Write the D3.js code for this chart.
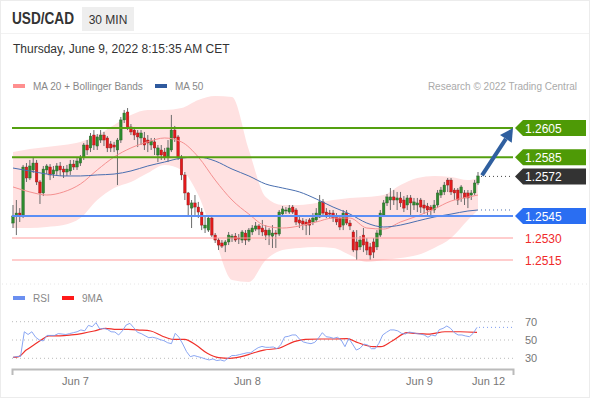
<!DOCTYPE html>
<html>
<head>
<meta charset="utf-8">
<script src="https://cdnjs.cloudflare.com/ajax/libs/d3/7.8.5/d3.min.js"></script>
<style>
body { margin: 0; background: #fff; font-family: "Liberation Sans", Arial, sans-serif; }
</style>
</head>
<body>
<script>
var width = 590;
var height = 400;

// candles: [open, high, low, close], 30 min
var candles = [
  [1.25402,1.25525,1.25368,1.25450],[1.25450,1.25559,1.25320,1.25470],[1.25470,1.25504,1.25409,1.25450],
  [1.25457,1.25798,1.25436,1.25784],[1.25784,1.25811,1.25682,1.25709],[1.25709,1.25832,1.25695,1.25791],
  [1.25764,1.25852,1.25743,1.25811],[1.25811,1.25832,1.25661,1.25682],[1.25682,1.25695,1.25532,1.25607],
  [1.25607,1.25791,1.25586,1.25770],[1.25764,1.25804,1.25736,1.25791],[1.25784,1.25804,1.25695,1.25730],
  [1.25736,1.25791,1.25709,1.25764],[1.25757,1.25811,1.25730,1.25791],[1.25791,1.25818,1.25723,1.25764],
  [1.25770,1.25791,1.25709,1.25750],[1.25750,1.25798,1.25723,1.25770],[1.25757,1.25832,1.25730,1.25804],
  [1.25804,1.25832,1.25764,1.25784],[1.25784,1.25845,1.25764,1.25825],[1.25811,1.25866,1.25791,1.25845],
  [1.25852,1.25948,1.25832,1.25934],[1.25934,1.25968,1.25866,1.25900],[1.25914,1.26016,1.25886,1.25995],
  [1.26002,1.26036,1.25900,1.25934],[1.25927,1.26009,1.25900,1.25989],[1.25968,1.26036,1.25948,1.26002],
  [1.26002,1.26023,1.25927,1.25968],[1.25982,1.25995,1.25886,1.25914],[1.25941,1.25961,1.25886,1.25914],
  [1.25934,1.25955,1.25886,1.25920],[1.25900,1.25982,1.25661,1.25968],[1.25968,1.26125,1.25948,1.26105],
  [1.26105,1.26173,1.26084,1.26152],[1.26159,1.26186,1.26036,1.26050],[1.26057,1.26077,1.26002,1.26023],
  [1.26036,1.26057,1.25968,1.26002],[1.26016,1.26036,1.25920,1.25989],[1.25982,1.26036,1.25934,1.26016],
  [1.25982,1.26023,1.25900,1.25934],[1.25968,1.26002,1.25886,1.25948],[1.25934,1.25982,1.25900,1.25961],
  [1.25955,1.25982,1.25866,1.25914],[1.25866,1.25934,1.25818,1.25914],[1.25900,1.25934,1.25832,1.25866],
  [1.25886,1.25914,1.25832,1.25852],[1.25852,1.25968,1.25818,1.25914],[1.25900,1.26139,1.25886,1.26036],
  [1.26036,1.26064,1.25955,1.25982],[1.25989,1.26002,1.25832,1.25852],[1.25852,1.25866,1.25695,1.25730],
  [1.25730,1.25750,1.25559,1.25607],[1.25607,1.25614,1.25443,1.25525],[1.25504,1.25559,1.25368,1.25539],
  [1.25539,1.25593,1.25457,1.25511],[1.25511,1.25546,1.25436,1.25477],[1.25477,1.25504,1.25354,1.25388],
  [1.25368,1.25457,1.25334,1.25388],[1.25354,1.25450,1.25341,1.25436],[1.25436,1.25457,1.25307,1.25320],
  [1.25320,1.25334,1.25266,1.25286],[1.25286,1.25300,1.25218,1.25252],[1.25266,1.25286,1.25232,1.25245],
  [1.25252,1.25286,1.25204,1.25273],[1.25273,1.25341,1.25252,1.25320],[1.25300,1.25327,1.25273,1.25313],
  [1.25313,1.25334,1.25273,1.25286],[1.25300,1.25327,1.25259,1.25298],[1.25286,1.25354,1.25266,1.25341],
  [1.25334,1.25354,1.25252,1.25286],[1.25286,1.25368,1.25273,1.25354],[1.25341,1.25388,1.25320,1.25368],
  [1.25361,1.25409,1.25347,1.25382],[1.25382,1.25395,1.25320,1.25361],[1.25368,1.25423,1.25313,1.25341],
  [1.25354,1.25388,1.25286,1.25320],[1.25320,1.25368,1.25252,1.25354],[1.25313,1.25388,1.25232,1.25334],
  [1.25334,1.25354,1.25232,1.25327],[1.25327,1.25491,1.25313,1.25477],[1.25464,1.25518,1.25450,1.25498],
  [1.25484,1.25511,1.25464,1.25491],[1.25477,1.25525,1.25464,1.25504],[1.25511,1.25525,1.25464,1.25477],
  [1.25491,1.25504,1.25388,1.25409],[1.25423,1.25443,1.25368,1.25402],[1.25416,1.25436,1.25354,1.25395],
  [1.25409,1.25429,1.25320,1.25388],[1.25423,1.25436,1.25320,1.25388],[1.25409,1.25470,1.25388,1.25436],
  [1.25423,1.25504,1.25409,1.25470],[1.25443,1.25593,1.25436,1.25546],[1.25546,1.25566,1.25457,1.25470],
  [1.25477,1.25504,1.25436,1.25457],[1.25470,1.25491,1.25436,1.25463],[1.25470,1.25491,1.25409,1.25436],
  [1.25443,1.25470,1.25388,1.25409],[1.25436,1.25457,1.25354,1.25375],[1.25388,1.25491,1.25354,1.25470],
  [1.25470,1.25491,1.25388,1.25402],[1.25402,1.25423,1.25354,1.25382],[1.25341,1.25354,1.25204,1.25218],
  [1.25273,1.25354,1.25150,1.25218],[1.25239,1.25313,1.25218,1.25286],[1.25320,1.25368,1.25204,1.25252],
  [1.25273,1.25300,1.25184,1.25218],[1.25239,1.25266,1.25150,1.25184],[1.25273,1.25300,1.25163,1.25204],
  [1.25239,1.25354,1.25218,1.25334],[1.25320,1.25491,1.25307,1.25470],[1.25457,1.25559,1.25443,1.25539],
  [1.25539,1.25600,1.25518,1.25580],[1.25559,1.25641,1.25491,1.25580],[1.25580,1.25627,1.25525,1.25559],
  [1.25559,1.25614,1.25491,1.25573],[1.25573,1.25614,1.25511,1.25539],[1.25559,1.25586,1.25477,1.25504],
  [1.25525,1.25593,1.25491,1.25573],[1.25573,1.25593,1.25457,1.25539],[1.25525,1.25573,1.25491,1.25546],
  [1.25525,1.25573,1.25477,1.25539],[1.25559,1.25573,1.25470,1.25511],[1.25525,1.25559,1.25464,1.25504],
  [1.25518,1.25539,1.25457,1.25491],[1.25511,1.25525,1.25457,1.25491],[1.25491,1.25559,1.25470,1.25525],
  [1.25525,1.25627,1.25504,1.25607],[1.25593,1.25648,1.25573,1.25627],[1.25614,1.25682,1.25593,1.25661],
  [1.25695,1.25709,1.25614,1.25661],[1.25695,1.25709,1.25593,1.25614],[1.25627,1.25641,1.25559,1.25607],
  [1.25627,1.25641,1.25525,1.25559],[1.25607,1.25661,1.25546,1.25648],[1.25607,1.25627,1.25525,1.25573],
  [1.25607,1.25627,1.25504,1.25573],[1.25593,1.25627,1.25559,1.25607],[1.25607,1.25695,1.25593,1.25675],
  [1.25675,1.25750,1.25661,1.25723]
];

// indicator readings, taken every 5 candles
var bandIdx = [0,5,10,15,20,25,30,35,40,45,50,55,60,65,70,75,80,85,90,95,100,105,110,115,120,125,130,135,138];
var bbUpper = [1.25886,1.25907,1.25920,1.25934,1.25955,1.26002,1.26071,1.26139,1.26173,1.26173,1.26186,1.26241,1.26268,1.26261,
  1.25900,1.25579,1.25525,1.25525,1.25538,1.25559,1.25573,1.25579,1.25593,1.25661,1.25709,1.25723,1.25716,1.25695,1.25709];
var bbLower = [1.25368,1.25368,1.25375,1.25388,1.25436,1.25559,1.25641,1.25682,1.25743,1.25798,1.25764,1.25593,1.25286,1.25013,
  1.25000,1.25150,1.25218,1.25232,1.25238,1.25232,1.25184,1.25136,1.25150,1.25163,1.25184,1.25232,1.25300,1.25423,1.25491];
var ma20 = [1.25648,1.25614,1.25593,1.25614,1.25668,1.25764,1.25852,1.25914,1.25955,1.25982,1.25955,1.25852,1.25695,1.25559,
  1.25463,1.25382,1.25368,1.25382,1.25409,1.25436,1.25436,1.25368,1.25361,1.25409,1.25450,1.25498,1.25552,1.25579,1.25593];
var ma50 = [1.25777,1.25757,1.25736,1.25723,1.25723,1.25730,1.25736,1.25757,1.25791,1.25818,1.25845,1.25852,1.25825,1.25770,
  1.25723,1.25668,1.25641,1.25614,1.25566,1.25511,1.25463,1.25402,1.25375,1.25388,1.25416,1.25443,1.25463,1.25484,1.25491];

var resistances = [1.2605, 1.2585];
var pivot = 1.2545;
var supports = [1.2530, 1.2515];
var lastPrice = 1.2572;

var rsi = [31,32,32,59,56,59,53,50,49,55, 55,55,57,56.5,56,57,58,59,61,60,
  66,64.5,69,62,62.7,61.6,59,58.7,55.5,60, 66.4,68.2,63.5,58.4,57,54.7,52.5,53,52,50.4,
  49.3,47,46,57.3,53,45.6,37.3,31.8,33,31.8, 30.7,29.3,28.2,29.3,27.5,28.2,27,30,33,33,
  34,35,36,36,39,41.6,43,42,42,42.4, 40.5,45,53.3,54,55.5,55.5,50.7,47.8,46.7,46,
  47.5,52.2,58,53.6,53,51.8,53,50,42.7,51.8, 45.6,39,41,45.6,44.5,40.5,40.5,46.4,55.5,58.4,
  61,61,60,57.3,56.5,58.7,58,57,56.5,55.5, 53,55.5,54.4,61.3,62.7,65.3,62.7,58,55.5,55.5,
  54.4,53.6,57.3,63.8];
var rsiMaIdx = [0,1.5,3.5,5.5,7.5,9.5,12.5,15.5,18.5,21.5,24.5,27.5,30.5,33.5,36.5,39.5,42.5,45.5,48.5,51.5,54.5,
  57.5,60.5,63.5,66.5,70.5,74.5,77.5,81.5,84.5,88.5,91.5,95.5,97.5,100.5,104.5,106.5,110.5,114.5,118.5,123];
var rsiMa = [31,31.8,39,44.5,50,54.4,54.4,55.5,57.3,59.8,62.7,61.6,61.6,60.9,59.8,54.4,50.7,50.7,44.5,35.5,30.7,
  30,31.8,35.5,39,41,48.2,50.7,51.1,51.1,51.5,47,42.7,42.7,48.9,58,57.3,56.5,59,59,58.4];
var rsiTicks = [30, 50, 70];

var dateLabels = ["Jun 7", "Jun 8", "Jun 9", "Jun 12"];
var dateIdx = [18.4, 69.4, 120.5, 141];

var svg = d3.select("body")
    .append("svg")
    .attr("width", width)
    .attr("height", height)
    .style("font-family", "'Liberation Sans', Arial, sans-serif");

svg.append("rect")
    .attr("x", 0.5).attr("y", 0.5)
    .attr("width", width - 1).attr("height", 397)
    .attr("fill", "#fff").attr("stroke", "#ececec");

//Header
svg.append("line")
    .attr("x1", 1).attr("x2", width - 1).attr("y1", 33.5).attr("y2", 33.5)
    .attr("stroke", "#f2f2f2");
svg.append("text")
    .attr("x", 12).attr("y", 24)
    .attr("font-size", 16).attr("font-weight", "bold").attr("fill", "#333")
    .attr("textLength", 62).attr("lengthAdjust", "spacingAndGlyphs")
    .text("USD/CAD");
svg.append("rect")
    .attr("x", 82).attr("y", 7).attr("width", 52).attr("height", 24)
    .attr("fill", "#eeeeee");
svg.append("text")
    .attr("x", 108).attr("y", 24).attr("text-anchor", "middle")
    .attr("font-size", 12).attr("fill", "#333")
    .text("30 MIN");
svg.append("text")
    .attr("x", 13).attr("y", 53)
    .attr("font-size", 12).attr("fill", "#333")
    .text("Thursday, June 9, 2022 8:15:35 AM CET");

//Legend
function legendItem(x, y, color, label) {
    svg.append("rect").attr("x", x).attr("y", y - 2).attr("width", 12).attr("height", 4).attr("fill", color);
    svg.append("text").attr("x", x + 20).attr("y", y + 4)
        .attr("font-size", 10).attr("fill", "#888").text(label);
}
legendItem(13, 86, "#ff8f8f", "MA 20 + Bollinger Bands");
legendItem(155, 86, "#2f5a9e", "MA 50");
svg.append("text")
    .attr("x", 577).attr("y", 90).attr("text-anchor", "end")
    .attr("font-size", 10).attr("fill", "#aaa")
    .text("Research \u00a9 2022 Trading Central");

//Scales
var x = d3.scaleLinear().domain([0, candles.length - 1]).range([13, 478]);
var step = x(1) - x(0);
var y = d3.scaleLinear().domain([1.2515, 1.2605]).range([260, 128]);
var left = 12, right = 513;

var main = svg.append("g");

//Bollinger band
var bandData = bandIdx.map(function(d, i) { return {i: d, hi: bbUpper[i], lo: bbLower[i], ma20: ma20[i], ma50: ma50[i]}; });
main.append("path")
    .datum(bandData)
    .attr("fill", "#ffe1e1")
    .attr("d", d3.area()
        .x(function(d) { return x(d.i); })
        .y0(function(d) { return y(d.lo); })
        .y1(function(d) { return y(d.hi); })
        .curve(d3.curveMonotoneX));

//Candles
var cg = main.append("g").selectAll("g")
    .data(candles)
    .enter().append("g");
cg.append("line")
    .attr("x1", function(d, i) { return x(i); })
    .attr("x2", function(d, i) { return x(i); })
    .attr("y1", function(d) { return y(d[1]); })
    .attr("y2", function(d) { return y(d[2]); })
    .attr("stroke", "#6b6b6b").attr("stroke-width", 1);
cg.append("rect")
    .attr("x", function(d, i) { return x(i) - step * 0.38; })
    .attr("width", step * 0.76)
    .attr("y", function(d) { return y(Math.max(d[0], d[3])); })
    .attr("height", function(d) { return Math.max(1, Math.abs(y(d[0]) - y(d[3]))); })
    .attr("fill", function(d) { return d[3] >= d[0] ? "#2e8b2e" : "#e3191b"; })
    .attr("stroke", function(d) { return d[3] >= d[0] ? "#2a5c2a" : "#8a1c1c"; })
    .attr("stroke-width", 0.4);

//MA lines
main.append("path")
    .datum(bandData)
    .attr("fill", "none").attr("stroke", "#f59090").attr("stroke-width", 1)
    .attr("d", d3.line().x(function(d) { return x(d.i); }).y(function(d) { return y(d.ma20); }).curve(d3.curveMonotoneX));
main.append("path")
    .datum(bandData)
    .attr("fill", "none").attr("stroke", "#4a6fb0").attr("stroke-width", 1)
    .attr("d", d3.line().x(function(d) { return x(d.i); }).y(function(d) { return y(d.ma50); }).curve(d3.curveMonotoneX));

//Key levels
function level(v, color, w) {
    main.append("line")
        .attr("x1", left).attr("x2", right)
        .attr("y1", y(v)).attr("y2", y(v))
        .attr("stroke", color).attr("stroke-width", w);
}
resistances.forEach(function(v) { level(v, "#54a010", 2); });
level(pivot, "#5b8ef5", 2);
supports.forEach(function(v) { level(v, "#ff9c9c", 1.2); });

//Dotted extensions
var xEnd = x(candles.length - 1) + 3;
main.append("line")
    .attr("x1", xEnd).attr("x2", right)
    .attr("y1", y(lastPrice)).attr("y2", y(lastPrice))
    .attr("stroke", "#444").attr("stroke-width", 1).attr("stroke-dasharray", "1,3");
main.append("line")
    .attr("x1", xEnd).attr("x2", right)
    .attr("y1", y(ma50[ma50.length - 1])).attr("y2", y(ma50[ma50.length - 1]))
    .attr("stroke", "#4a6fb0").attr("stroke-width", 1).attr("stroke-dasharray", "1,3");

//Tags
function tag(v, color) {
    var cy = y(v);
    main.append("path")
        .attr("d", "M" + (right + 2) + "," + cy + "L" + (right + 10) + "," + (cy - 8) + "L586," + (cy - 8) +
            "L586," + (cy + 8) + "L" + (right + 10) + "," + (cy + 8) + "Z")
        .attr("fill", color);
    main.append("text")
        .attr("x", 525).attr("y", cy + 4.5)
        .attr("font-size", 12).attr("fill", "#fff")
        .text(v.toFixed(4));
}
resistances.forEach(function(v) { tag(v, "#4e9a06"); });
tag(lastPrice, "#333333");
tag(pivot, "#2a6ef2");
supports.forEach(function(v) {
    main.append("text")
        .attr("x", 525).attr("y", y(v) + 4.5)
        .attr("font-size", 12).attr("fill", "#f02a2a")
        .text(v.toFixed(4));
});

//Arrow
var ax0 = xEnd + 1, ay0 = y(lastPrice) - 1;
var ax1 = right, ay1 = y(resistances[0]);
var dx = ax1 - ax0, dy = ay1 - ay0, len = Math.sqrt(dx * dx + dy * dy);
var ux = dx / len, uy = dy / len;
var hb = 13;
var bx = ax1 - ux * hb, by = ay1 - uy * hb;
main.append("line")
    .attr("x1", ax0).attr("y1", ay0).attr("x2", bx).attr("y2", by)
    .attr("stroke", "#2f5f9f").attr("stroke-width", 4);
main.append("path")
    .attr("d", "M" + ax1 + "," + ay1 + "L" + (bx - uy * 7) + "," + (by + ux * 7) + "L" + (bx + uy * 7) + "," + (by - ux * 7) + "Z")
    .attr("fill", "#2f5f9f");

//Panel separator
svg.append("line")
    .attr("x1", 2).attr("x2", width - 2).attr("y1", 284).attr("y2", 284)
    .attr("stroke", "#e6e6e6").attr("stroke-dasharray", "1,3");

//RSI panel
legendItem(13, 298, "#6b8ff0", "RSI");
legendItem(62, 298, "#ff1a1a", "9MA");

var rx = d3.scaleLinear().domain([0, rsi.length - 1]).range([13, 477]);
var ry = d3.scaleLinear().domain([30, 70]).range([358.3, 321.7]);

var rg = svg.append("g");
rg.selectAll(".grid")
    .data(rsiTicks)
    .enter().append("line")
    .attr("x1", left).attr("x2", right)
    .attr("y1", function(d) { return ry(d); })
    .attr("y2", function(d) { return ry(d); })
    .attr("stroke", "#bbb").attr("stroke-dasharray", "1,3");
rg.selectAll(".lbl")
    .data(rsiTicks)
    .enter().append("text")
    .attr("x", 525).attr("y", function(d) { return ry(d) + 4; })
    .attr("font-size", 11).attr("fill", "#777")
    .text(function(d) { return d; });

rg.append("path")
    .datum(rsiMaIdx.map(function(d, i) { return [d, rsiMa[i]]; }))
    .attr("fill", "none").attr("stroke", "#f0302a").attr("stroke-width", 1.2)
    .attr("d", d3.line().x(function(d) { return rx(d[0]); }).y(function(d) { return ry(d[1]); }).curve(d3.curveMonotoneX));
rg.append("path")
    .datum(rsi)
    .attr("fill", "none").attr("stroke", "#7d9cf0").attr("stroke-width", 0.9)
    .attr("d", d3.line().x(function(d, i) { return rx(i); }).y(function(d) { return ry(d); }));
rg.append("line")
    .attr("x1", rx(rsi.length - 1) + 2).attr("x2", right)
    .attr("y1", ry(rsi[rsi.length - 1])).attr("y2", ry(rsi[rsi.length - 1]))
    .attr("stroke", "#7d9cf0").attr("stroke-dasharray", "1,3");

//Time axis
var xa = d3.scaleLinear().domain([x.invert(left), x.invert(right)]).range([left, right]);
var axis = svg.append("g")
    .attr("transform", "translate(0,369)")
    .call(d3.axisBottom(xa)
        .tickValues(dateIdx)
        .tickFormat(function(d, i) { return dateLabels[i]; })
        .tickSize(0)
        .tickSizeOuter(6)
        .tickPadding(8));
axis.select(".domain").attr("stroke", "#bbb").attr("stroke-width", 2);
axis.selectAll("text").attr("font-size", 11).attr("fill", "#777")
    .attr("font-family", "'Liberation Sans', Arial, sans-serif");
</script>
</body>
</html>
